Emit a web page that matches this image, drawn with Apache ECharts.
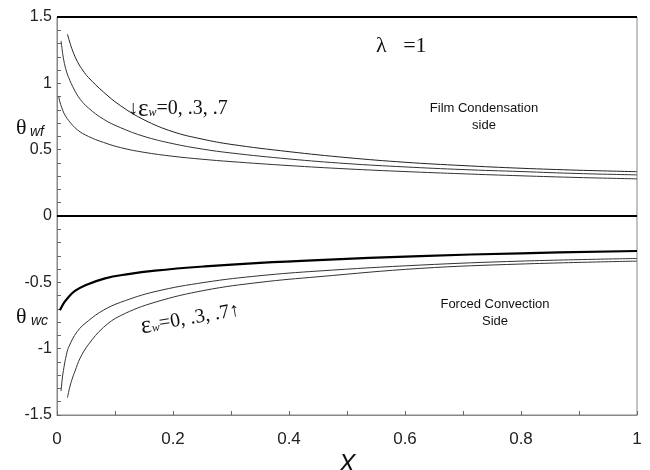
<!DOCTYPE html>
<html>
<head>
<meta charset="UTF-8">
<title>theta wall profiles</title>
<script src="https://cdn.jsdelivr.net/npm/echarts@6/dist/echarts.min.js"></script>
<style>
html, body { margin: 0; padding: 0; background: #fff; }
#chart { width: 650px; height: 470px; }
</style>
</head>
<body>
<div id="chart"></div>
<script>
// film condensation side, eps_w = 0, .3, .7
const xFilm0 = [0.018, 0.022, 0.027, 0.035, 0.045, 0.054, 0.08, 0.11, 0.15, 0.2, 0.25, 0.3, 0.4, 0.5, 0.6, 0.7, 0.8, 0.9, 1.0];
const yFilm0 = [1.37, 1.31, 1.245, 1.165, 1.095, 1.045, 0.935, 0.83, 0.725, 0.635, 0.58, 0.54, 0.485, 0.44, 0.405, 0.38, 0.36, 0.345, 0.334];
const xFilm3 = [0.007, 0.009, 0.011, 0.015, 0.02, 0.03, 0.04, 0.054, 0.08, 0.11, 0.15, 0.2, 0.25, 0.3, 0.4, 0.5, 0.6, 0.7, 0.8, 0.9, 1.0];
const yFilm3 = [1.32, 1.25, 1.19, 1.11, 1.045, 0.95, 0.88, 0.815, 0.73, 0.665, 0.6, 0.545, 0.505, 0.475, 0.43, 0.395, 0.37, 0.35, 0.335, 0.32, 0.31];
const xFilm7 = [0.003, 0.005, 0.008, 0.012, 0.02, 0.035, 0.054, 0.08, 0.11, 0.15, 0.2, 0.25, 0.3, 0.4, 0.5, 0.6, 0.7, 0.8, 0.9, 1.0];
const yFilm7 = [0.90, 0.86, 0.82, 0.775, 0.72, 0.65, 0.60, 0.555, 0.515, 0.48, 0.45, 0.428, 0.41, 0.38, 0.355, 0.335, 0.318, 0.303, 0.29, 0.28];

// forced convection side
const xConv0 = [0.005, 0.008, 0.012, 0.02, 0.031, 0.05, 0.083, 0.12, 0.169, 0.255, 0.35, 0.45, 0.626, 0.8, 1.0];
const yConv0 = [-0.71, -0.685, -0.655, -0.61, -0.565, -0.52, -0.47, -0.44, -0.412, -0.38, -0.353, -0.332, -0.302, -0.281, -0.264];
const xConv3 = [0.007, 0.009, 0.012, 0.016, 0.02, 0.035, 0.054, 0.08, 0.11, 0.169, 0.255, 0.35, 0.45, 0.626, 0.8, 1.0];
const yConv3 = [-1.32, -1.23, -1.14, -1.05, -0.99, -0.87, -0.79, -0.71, -0.65, -0.57, -0.50, -0.45, -0.415, -0.37, -0.34, -0.32];
const xConv7 = [0.018, 0.022, 0.026, 0.031, 0.04, 0.054, 0.08, 0.11, 0.169, 0.255, 0.35, 0.45, 0.626, 0.8, 1.0];
const yConv7 = [-1.37, -1.29, -1.23, -1.17, -1.07, -0.97, -0.84, -0.75, -0.65, -0.56, -0.50, -0.458, -0.395, -0.362, -0.34];

const yTicks = { min: -1.5, max: 1.5, step: 0.5 };
const xTicks = { min: 0, max: 1, step: 0.2 };

const SANS = '"Liberation Sans", Arial, sans-serif';
const SERIF = '"Liberation Serif", "Times New Roman", serif';

function pairs(xs, ys) {
  return xs.map((x, i) => [x, ys[i]]);
}

function curve(name, xs, ys, width, color) {
  return {
    name: name,
    type: 'line',
    data: pairs(xs, ys),
    smooth: 0.4,
    symbol: 'none',
    lineStyle: { color: color, width: width },
    z: 3
  };
}

const epsRich = {
  a: { font: '20px ' + SERIF, fill: '#111' },
  e: { font: '25px ' + SERIF, fill: '#111' },
  w: { font: 'italic 12px ' + SERIF, fill: '#111', padding: [7, 0, 0, 0] },
  n: { font: '20px ' + SERIF, fill: '#111' }
};

const chart = echarts.init(document.getElementById('chart'));
chart.setOption({
  animation: false,
  backgroundColor: '#fff',
  grid: { left: 57, right: 13, top: 17, bottom: 55, outerBoundsMode: 'none', containLabel: false,
    show: true, borderColor: '#888', borderWidth: 1 },
  xAxis: {
    type: 'value',
    min: xTicks.min, max: xTicks.max, interval: xTicks.step,
    name: 'X', nameLocation: 'middle', nameGap: 28,
    nameTextStyle: { fontFamily: SANS, fontStyle: 'italic', fontSize: 25, color: '#111' },
    axisLine: { show: true, onZero: false, lineStyle: { color: '#888', width: 1 } },
    axisTick: { show: true, inside: true, length: 4, lineStyle: { color: '#666' } },
    minorTick: { show: true, splitNumber: 2, length: 4, lineStyle: { color: '#666' } },
    axisLabel: { fontFamily: SANS, fontSize: 17, color: '#222', margin: 16 },
    splitLine: { show: false }
  },
  yAxis: {
    type: 'value',
    min: yTicks.min, max: yTicks.max, interval: yTicks.step,
    axisLine: { show: true, onZero: false, lineStyle: { color: '#888', width: 1 } },
    axisTick: { show: true, inside: true, length: 4, lineStyle: { color: '#666' } },
    minorTick: { show: true, splitNumber: 5, length: 4, lineStyle: { color: '#666' } },
    axisLabel: { fontFamily: SANS, fontSize: 16, color: '#222', margin: 5 },
    splitLine: { show: false }
  },
  series: [
    Object.assign(curve('film eps 0', xFilm0, yFilm0, 1, '#222'), {
      markLine: {
        silent: true,
        symbol: 'none',
        label: { show: false },
        lineStyle: { color: '#000', width: 2, type: 'solid' },
        data: [{ yAxis: 0 }, { yAxis: 1.5 }]
      }
    }),
    curve('film eps .3', xFilm3, yFilm3, 1, '#333'),
    curve('film eps .7', xFilm7, yFilm7, 1, '#333'),
    curve('conv eps 0', xConv0, yConv0, 2.2, '#000'),
    curve('conv eps .3', xConv3, yConv3, 1, '#333'),
    curve('conv eps .7', xConv7, yConv7, 1, '#333')
  ],
  graphic: [
    { type: 'text', x: 16, y: 128, style: { text: 'θ', font: '22px ' + SERIF, fill: '#111', textVerticalAlign: 'middle' } },
    { type: 'text', x: 30, y: 132, style: { text: 'wf', font: 'italic 14px ' + SANS, fill: '#111', textVerticalAlign: 'middle' } },
    { type: 'text', x: 16, y: 317, style: { text: 'θ', font: '22px ' + SERIF, fill: '#111', textVerticalAlign: 'middle' } },
    { type: 'text', x: 31, y: 321, style: { text: 'wc', font: 'italic 14px ' + SANS, fill: '#111', textVerticalAlign: 'middle' } },
    { type: 'text', x: 376, y: 46, style: { text: 'λ   =1', font: '22px ' + SERIF, fill: '#111', textVerticalAlign: 'middle' } },
    { type: 'text', x: 484, y: 108, style: { text: 'Film Condensation', font: '13px ' + SANS, fill: '#111', textAlign: 'center', textVerticalAlign: 'middle' } },
    { type: 'text', x: 484, y: 125, style: { text: 'side', font: '13px ' + SANS, fill: '#111', textAlign: 'center', textVerticalAlign: 'middle' } },
    { type: 'text', x: 495, y: 304, style: { text: 'Forced Convection', font: '13px ' + SANS, fill: '#111', textAlign: 'center', textVerticalAlign: 'middle' } },
    { type: 'text', x: 495, y: 321, style: { text: 'Side', font: '13px ' + SANS, fill: '#111', textAlign: 'center', textVerticalAlign: 'middle' } },
    { type: 'text', x: 128, y: 109, style: { text: '{a|↓}{e|ε}{w|w}{n|=0, .3, .7}', textVerticalAlign: 'middle', rich: epsRich } },
    { type: 'text', x: 141, y: 327, rotation: 0.17, style: { text: '{e|ε}{w|w}{n|=0, .3, .7}{a|↑}', textVerticalAlign: 'middle', rich: epsRich } }
  ]
});
</script>
</body>
</html>
